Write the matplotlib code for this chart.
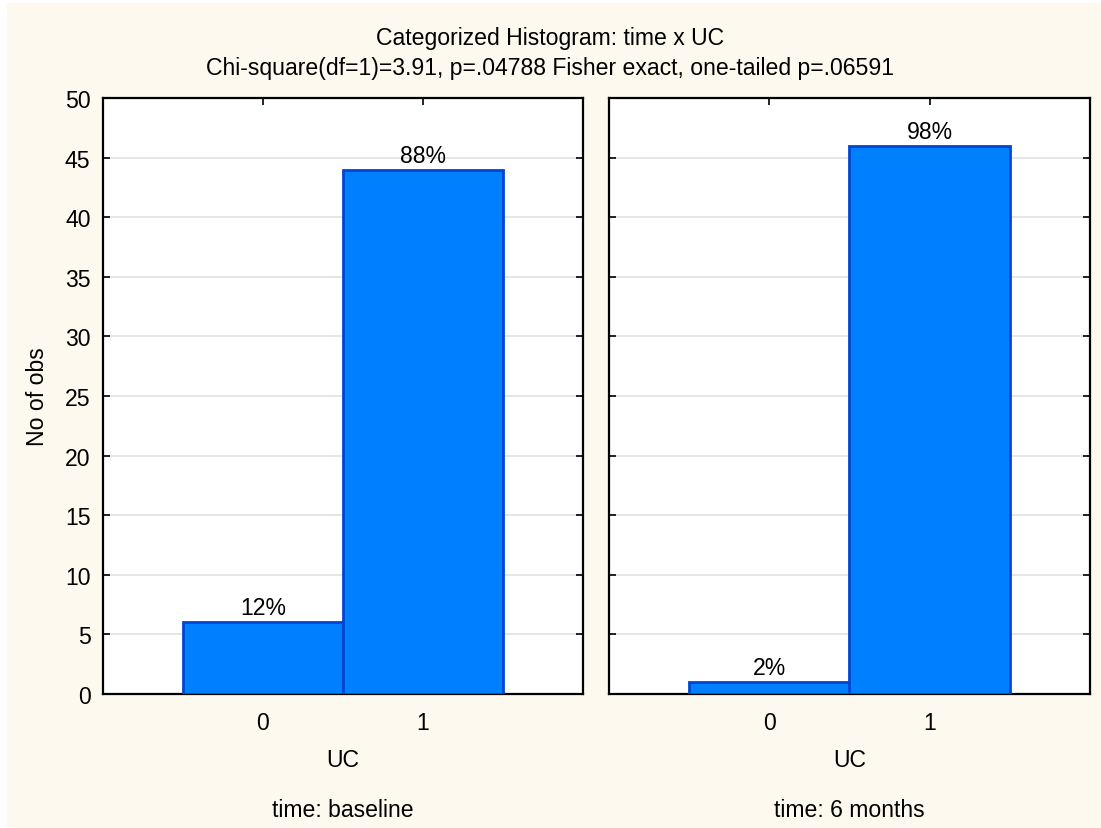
import matplotlib
matplotlib.use("Agg")
import matplotlib.pyplot as plt
from matplotlib.patches import Rectangle

plt.rcParams['font.family'] = ['Liberation Sans', 'DejaVu Sans']

# counts of UC per time group
uc_levels = [0, 1]
groups = ["time: baseline", "time: 6 months"]
counts_baseline = [6, 44]
counts_6months = [1, 46]
pct_baseline = ["12%", "88%"]
pct_6months = ["2%", "98%"]

title = "Categorized Histogram: time x UC"
subtitle = "Chi-square(df=1)=3.91, p=.04788 Fisher exact, one-tailed p=.06591"

bg = "#FDF9EF"
bar_fill = "#0080FF"
bar_edge = "#0046D0"
fs = 16.6

fig = plt.figure(figsize=(11.01, 8.29), dpi=100)
fig.patch.set_facecolor(bg)
W, H = 1101, 829
# thin white margin along the left and top edges
fig.patches.append(Rectangle((0, 0), 7 / W, 1, transform=fig.transFigure,
                             facecolor="white", edgecolor="none", zorder=-10))
fig.patches.append(Rectangle((0, 1 - 4 / H), 1, 4 / H, transform=fig.transFigure,
                             facecolor="white", edgecolor="none", zorder=-10))

def px_axes(x0, x1, y0, y1):
    return fig.add_axes([x0 / W, 1 - y1 / H, (x1 - x0) / W, (y1 - y0) / H])

ax_left = px_axes(103, 583, 99, 695)
ax_right = px_axes(609, 1090, 99, 695)

panels = [(ax_left, counts_baseline, pct_baseline, groups[0]),
          (ax_right, counts_6months, pct_6months, groups[1])]

for i, (ax, counts, pcts, grp) in enumerate(panels):
    ax.set_facecolor("white")
    bars = ax.bar(uc_levels, counts, width=1.0, color=bar_fill,
                  edgecolor=bar_edge, linewidth=2, zorder=3)
    for b, lab in zip(bars, pcts):
        ax.text(b.get_x() + b.get_width() / 2, b.get_height() + 0.25, lab,
                ha="center", va="bottom", fontsize=fs, zorder=4)
    ax.set_xlim(-1, 2)
    ax.set_ylim(0, 50)
    ax.set_xticks(uc_levels)
    ax.set_yticks(range(0, 51, 5))
    ax.yaxis.grid(True, color="#E2E2E2", linewidth=1.2, zorder=0)
    ax.set_axisbelow(True)
    ax.tick_params(direction="in", length=5, width=1.2, top=True, right=True,
                   labelsize=fs, colors="black")
    ax.tick_params(axis="x", pad=12)
    ax.tick_params(axis="y", pad=9)
    for sp in ax.spines.values():
        sp.set_linewidth(1.6)
        sp.set_color("black")
    # axis title and group caption below each panel
    ax.text(0.5, -0.1107, "UC", transform=ax.transAxes, ha="center",
            va="center", fontsize=fs)
    ax.text(0.5, -0.193, grp, transform=ax.transAxes, ha="center",
            va="center", fontsize=fs)
    if i == 0:
        ax.set_ylabel("No of obs", fontsize=fs)
        ax.yaxis.set_label_coords(-0.1125, 0.5)
    else:
        ax.tick_params(axis="y", labelleft=False)

fig.text(0.5, 1 - 38 / H, title, ha="center", va="center", fontsize=fs)
fig.text(0.5, 1 - 68 / H, subtitle, ha="center", va="center", fontsize=fs)

fig.savefig("out.png", dpi=100, facecolor=fig.get_facecolor())
